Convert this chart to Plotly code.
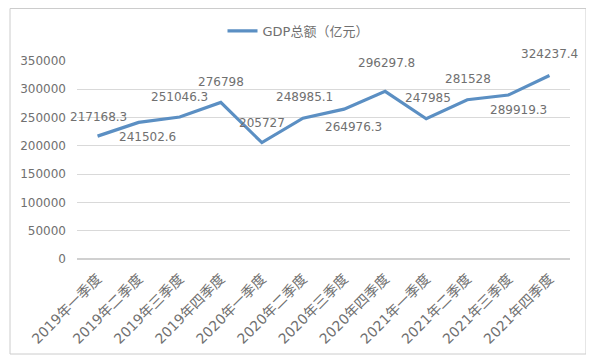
import plotly.graph_objects as go

categories = ["2019年一季度", "2019年二季度", "2019年三季度", "2019年四季度",
              "2020年一季度", "2020年二季度", "2020年三季度", "2020年四季度",
              "2021年一季度", "2021年二季度", "2021年三季度", "2021年四季度"]
gdp = [217168.3, 241502.6, 251046.3, 276798, 205727, 248985.1,
       264976.3, 296297.8, 247985, 281528, 289919.3, 324237.4]
labels = ["217168.3", "241502.6", "251046.3", "276798", "205727", "248985.1",
          "264976.3", "296297.8", "247985", "281528", "289919.3", "324237.4"]
series_name = "GDP总额（亿元）"
y_ticks = [0, 50000, 100000, 150000, 200000, 250000, 300000, 350000]
y_tick_text = ["0", "50000", "100000", "150000", "200000", "250000", "300000", "350000"]

# label offsets in pixels (dx, dy up)
label_offsets = [(1, 19), (9, -15), (0, 20), (0, 20), (0, 20), (2, 21),
                 (9, -18), (1, 28), (2, 21), (1, 21), (10, -15), (0, 22)]

FONT = "DejaVu Sans, Noto Sans CJK SC, sans-serif"
TXT = "#707070"
LINE = "#5b8fc3"

# page body has an 8px margin: figure drawn at offset (8, 8)
OFF = 8
W, H = 594 - OFF, 361 - OFF
L, R, T, B = 77 - OFF, W - (570 - OFF), 61 - OFF, H - (259 - OFF)
pw, ph = W - L - R, H - T - B

fig = go.Figure()
fig.add_trace(go.Scatter(
    x=categories, y=gdp, mode="lines", name=series_name,
    line=dict(color=LINE, width=3.2),
))

for c, v, t, (dx, dy) in zip(categories, gdp, labels, label_offsets):
    fig.add_annotation(x=c, y=v, text=t, showarrow=False, xshift=dx, yshift=dy,
                       font=dict(family=FONT, size=12, color=TXT))

fig.add_shape(type="rect", xref="paper", yref="paper",
              x0=(10 - OFF - L) / pw, x1=(586 - OFF - L) / pw,
              y0=((259 - OFF) - (354 - OFF)) / ph, y1=((259 - OFF) - (8.5 - OFF)) / ph,
              line=dict(color="#cccccc", width=1), fillcolor="rgba(0,0,0,0)", layer="above")

fig.update_layout(
    width=W, height=H,
    margin=dict(l=L, r=R, t=T, b=B, autoexpand=False),
    paper_bgcolor="white", plot_bgcolor="white",
    font=dict(family=FONT, size=12, color=TXT),
    showlegend=True,
    legend=dict(orientation="h", x=(298 - 77) / pw, xanchor="center",
                y=((259 - OFF) - (31 - OFF)) / ph,
                yanchor="middle", font=dict(family=FONT, size=13, color=TXT)),
    xaxis=dict(type="category", range=[-0.5, len(categories) - 0.5],
               showgrid=False, showline=False, ticks="", automargin=False,
               tickangle=-45, ticklabelstandoff=8,
               tickfont=dict(family=FONT, size=14, color=TXT)),
    yaxis=dict(range=[0, 350000], tickvals=y_ticks, ticktext=y_tick_text, automargin=False,
               showgrid=True, gridcolor="#d9d9d9",
               gridwidth=1, zeroline=True, zerolinecolor="#d0d0d0", showline=False,
               ticks="", ticklen=0, ticklabelstandoff=10,
               tickfont=dict(family=FONT, size=12, color=TXT)),
)

fig.write_html("out.html")
